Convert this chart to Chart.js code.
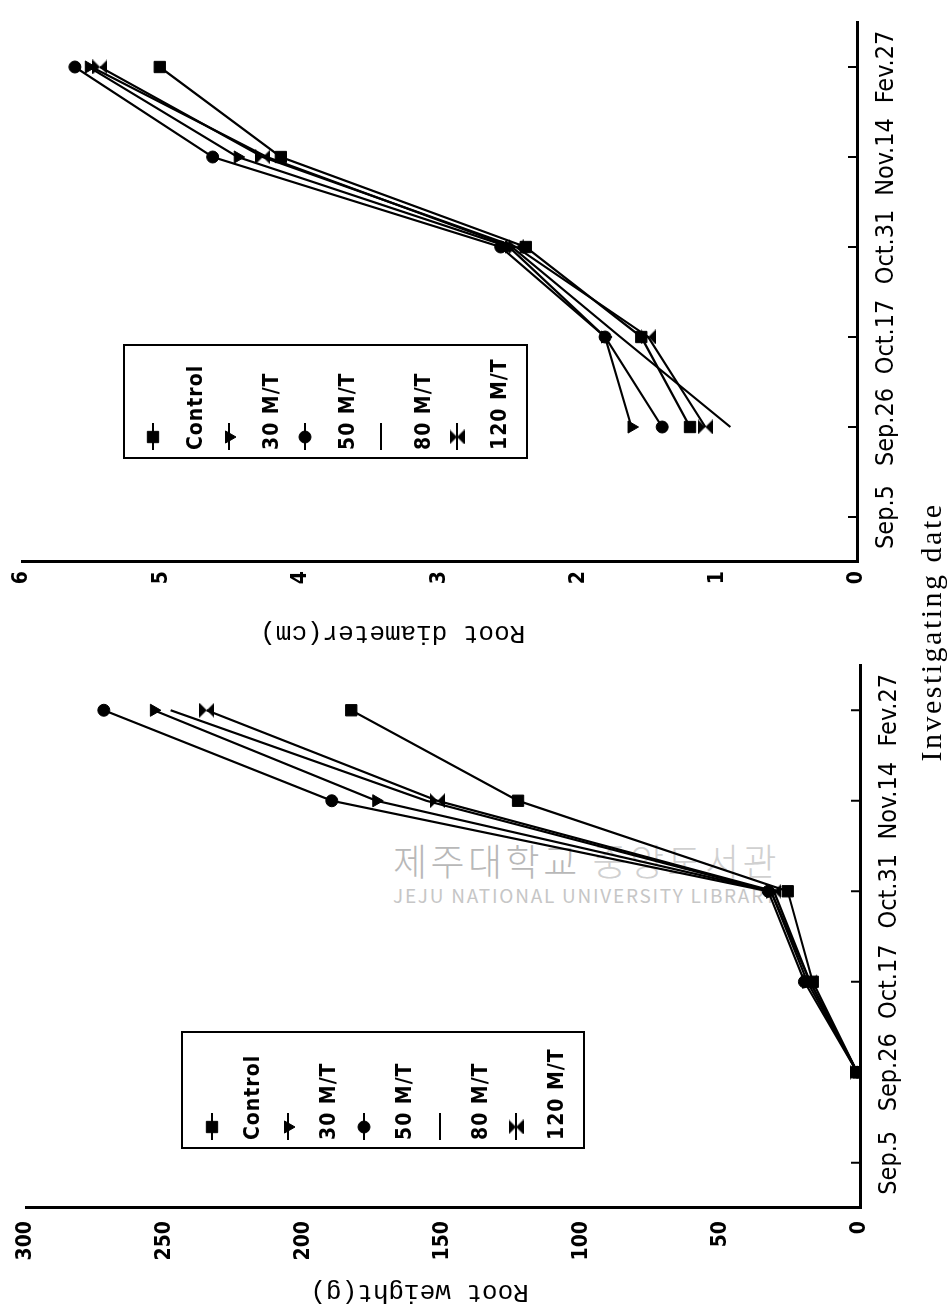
<!DOCTYPE html>
<html>
<head>
<meta charset="utf-8">
<title>Root weight and root diameter</title>
<script src="https://cdn.jsdelivr.net/npm/chart.js@4.4.1/dist/chart.umd.min.js"></script>
<style>
   html, body { margin: 0; padding: 0; background: #fff; }
   body { width: 948px; height: 1307px; overflow: hidden; position: relative; }
   #mark { position: absolute; left: 393px; top: 836px; z-index: 0; font-family: "Noto Sans CJK KR", sans-serif; }
   #mark .ko { font-size: 37px; line-height: 48px; color: #b8b8b8; letter-spacing: 3.5px; font-weight: 300; }
   #mark .ko span { color: #d0d0d0; }
   #mark .en { font-size: 19px; line-height: 22px; color: #c6c6c6; letter-spacing: 1.75px; }
   /* the figure is printed sideways: build it upright, then turn it */
   #page { position: absolute; left: 0; top: 0; width: 1307px; height: 948px; z-index: 1;
           transform-origin: 0 0; transform: translateY(1307px) rotate(-90deg); }
   #wrapW { position: absolute; left: 0; top: 0; }
   #wrapD { position: absolute; left: 650px; top: 0; }
   #xtitle { position: absolute; left: 475px; width: 400px; top: 915px; text-align: center;
             font: 30px "Liberation Serif", serif; letter-spacing: 2.5px; line-height: 32px; color: #000; }
</style>
</head>
<body>
<div id="mark">
   <div class="ko">제주대학교 <span>중앙도서관</span></div>
   <div class="en">JEJU NATIONAL UNIVERSITY LIBRARY</div>
</div>
<div id="page">
   <div id="wrapW"><canvas id="weightChart" width="700" height="948"></canvas></div>
   <div id="wrapD"><canvas id="diameterChart" width="657" height="948"></canvas></div>
   <div id="xtitle">Investigating date</div>
</div>
<script>
// Data

const dateLabels = ["Sep.5", "Sep.26", "Oct.17", "Oct.31", "Nov.14", "Fev.27"];
const seriesNames = ["Control", "30 M/T", "50 M/T", "80 M/T", "120 M/T"];

// Root weight (g)
const weightControl = [null, 1, 17, 26, 123, 183];
const weight30 = [null, 1, 19, 32, 174, 254];
const weight50 = [null, 1, 20, 33, 190, 272];
const weight80 = [null, 1, 18, 32, 156, 248];
const weight120 = [null, 1, 18, 31, 152, 235];
const weightTicks = [0, 50, 100, 150, 200, 250, 300];

// Root diameter (cm)
const diamControl = [null, 1.2, 1.55, 2.38, 4.14, 5.01];
const diam30 = [null, 1.62, 1.81, 2.5, 4.45, 5.52];
const diam50 = [null, 1.4, 1.81, 2.56, 4.63, 5.62];
const diam80 = [null, 0.91, 1.7, 2.48, 4.24, 5.5];
const diam120 = [null, 1.09, 1.5, 2.45, 4.27, 5.44];
const diamTicks = [0, 1, 2, 3, 4, 5, 6];

const narrowFont = '"Liberation Sans Narrow", "DejaVu Sans Condensed", sans-serif';

// hourglass marker used for 120 M/T
function makeHourglass(size) {
   const c = document.createElement("canvas");
   c.width = size;
   c.height = size;
   const g = c.getContext("2d");
   g.fillStyle = "#000";
   g.beginPath();
   g.moveTo(0, 0);
   g.lineTo(size, 0);
   g.lineTo(size / 2, size / 2);
   g.closePath();
   g.moveTo(0, size);
   g.lineTo(size, size);
   g.lineTo(size / 2, size / 2);
   g.closePath();
   g.fill();
   return c;
}

const hourglass = makeHourglass(15);

const markerStyles = [
   { pointStyle: "rect", pointRadius: 8, pointRotation: 0 },
   { pointStyle: "triangle", pointRadius: 7, pointRotation: 180 },
   { pointStyle: "circle", pointRadius: 6, pointRotation: 0 },
   { pointStyle: "circle", pointRadius: 0, pointRotation: 0 },
   { pointStyle: hourglass, pointRadius: 7, pointRotation: 0 },
];

function buildDatasets(seriesValues) {
   return seriesValues.map((values, i) => ({
      label: seriesNames[i],
      data: values,
      borderColor: "#000",
      backgroundColor: "#000",
      pointBackgroundColor: "#000",
      pointBorderColor: "#000",
      pointBorderWidth: 1,
      borderWidth: 2.2,
      tension: 0,
      fill: false,
      pointStyle: markerStyles[i].pointStyle,
      pointRadius: markerStyles[i].pointRadius,
      pointRotation: markerStyles[i].pointRotation,
   }));
}

// small inward tick marks on the date axis
const innerTicks = {
   id: "innerTicks",
   afterDraw(chart) {
      const scale = chart.scales.x;
      const ctx = chart.ctx;
      const bottom = chart.chartArea.bottom;
      ctx.save();
      ctx.strokeStyle = "#000";
      ctx.lineWidth = 2;
      scale.ticks.forEach((t, i) => {
         const px = scale.getPixelForTick(i);
         ctx.beginPath();
         ctx.moveTo(px, bottom);
         ctx.lineTo(px, bottom - 9);
         ctx.stroke();
      });
      ctx.restore();
   },
};

// boxed legend: marker on one row, name on the next
const boxLegend = {
   id: "boxLegend",
   afterDatasetsDraw(chart, args, opts) {
      const ctx = chart.ctx;
      const area = chart.chartArea;
      const left = area.left + opts.left;
      const top = area.top + opts.top;
      ctx.save();
      ctx.strokeStyle = "#000";
      ctx.fillStyle = "#000";
      ctx.lineWidth = 2;
      ctx.strokeRect(left, top, opts.width, opts.height);
      chart.data.datasets.forEach((ds, i) => {
         const my = top + opts.first + i * opts.step;
         ctx.lineWidth = 2;
         ctx.beginPath();
         ctx.moveTo(left + 8, my);
         ctx.lineTo(left + 35, my);
         ctx.stroke();
         if (ds.pointRadius > 0 && Chart.helpers && Chart.helpers.drawPoint) {
            ctx.lineWidth = 1;
            Chart.helpers.drawPoint(
               ctx,
               { pointStyle: ds.pointStyle, radius: ds.pointRadius, rotation: ds.pointRotation, borderWidth: 1 },
               left + 21,
               my
            );
         }
         ctx.font = "bold 21px " + narrowFont;
         ctx.letterSpacing = "1px";
         ctx.textBaseline = "middle";
         ctx.textAlign = "left";
         ctx.fillText(ds.label, left + 8, my + opts.textGap);
         ctx.letterSpacing = "0px";
      });
      ctx.restore();
   },
};

function makeChart(canvasId, seriesValues, ticks, title, layout) {
   const ctx = document.getElementById(canvasId).getContext("2d");
   return new Chart(ctx, {
      type: "line",
      data: {
         labels: dateLabels,
         datasets: buildDatasets(seriesValues),
      },
      plugins: [innerTicks, boxLegend],
      options: {
         responsive: false,
         animation: false,
         layout: {
            padding: { top: layout.top, right: layout.right, bottom: 0, left: 0 },
         },
         plugins: {
            legend: { display: false },
            tooltip: { enabled: false },
            boxLegend: layout.legend,
         },
         scales: {
            x: {
               type: "category",
               offset: true,
               grid: { display: false, drawTicks: false },
               border: { display: true, color: "#000", width: 3 },
               ticks: {
                  color: "#000",
                  font: { family: narrowFont, size: 25 },
                  padding: 14,
                  maxRotation: 0,
                  autoSkip: false,
               },
               afterFit(scale) {
                  scale.height = layout.xHeight;
               },
            },
            y: {
               min: ticks[0],
               max: ticks[ticks.length - 1],
               grid: { display: false, drawTicks: false },
               border: { display: true, color: "#000", width: 3 },
               ticks: {
                  stepSize: ticks[1] - ticks[0],
                  color: "#000",
                  font: { family: narrowFont, size: 21, weight: "bold" },
                  padding: layout.tickPad,
               },
               title: {
                  display: true,
                  // leading blanks push the printed title toward the top end, as in the figure
                  text: " ".repeat(layout.titleShift) + title,
                  color: "#000",
                  font: { family: '"Liberation Mono", "DejaVu Sans Mono", monospace', size: 26 },
                  padding: { top: layout.titlePad, bottom: 0 },
               },
               afterFit(scale) {
                  scale.width = layout.yWidth;
               },
            },
         },
      },
   });
}

makeChart(
   "weightChart",
   [weightControl, weight30, weight50, weight80, weight120],
   weightTicks,
   "Root weight(g)",
   {
      top: 26, right: 58, xHeight: 88, yWidth: 99, tickPad: 13, titlePad: 0, titleShift: 3,
      legend: { left: 60, top: 156, width: 116, height: 402, first: 30, step: 76, textGap: 42 },
   }
);

makeChart(
   "diameterChart",
   [diamControl, diam30, diam50, diam80, diam120],
   diamTicks,
   "Root diameter(cm)",
   {
      top: 22, right: 22, xHeight: 91, yWidth: 95, tickPad: 9, titlePad: 9, titleShift: 6,
      legend: { left: 104, top: 102, width: 113, height: 403, first: 29, step: 76, textGap: 44 },
   }
);
</script>
</body>
</html>
